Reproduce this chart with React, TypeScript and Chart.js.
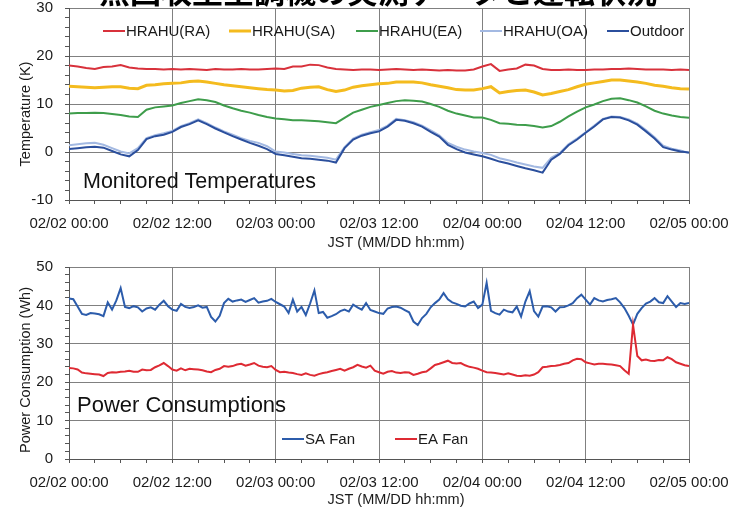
import React, { useEffect, useRef } from 'react';
import { Chart, registerables } from 'chart.js';

Chart.register(...registerables);

const FONT = "'Liberation Sans', Arial, Helvetica, sans-serif";

// ---------- shared axis data ----------
const X_TICK_LABELS = ['02/02 00:00', '02/02 12:00', '02/03 00:00', '02/03 12:00', '02/04 00:00', '02/04 12:00', '02/05 00:00'];
const X_TITLE = 'JST (MM/DD hh:mm)';
const X_MAJOR_HOURS = 12;
const X_MINOR_HOURS = 3;
const X_MAX_HOURS = 72;
const PAGE_TITLE = '熱回収型空調機の実測データと運転状況';

// ---------- temperature chart (hourly samples from 02/02 00:00) ----------
const TEMP_TITLE = 'Monitored Temperatures';
const TEMP_Y_TITLE = 'Temperature (K)';
const TEMP_STEP_HOURS = 1;
const TEMP_NAMES = ['HRAHU(RA)', 'HRAHU(SA)', 'HRAHU(EA)', 'HRAHU(OA)', 'Outdoor'];
const TEMP_RA = [
  18.0, 17.8, 17.5, 17.3, 17.7, 17.8, 18.1, 17.6, 17.4, 17.3, 17.3, 17.2,
  17.3, 17.2, 17.3, 17.2, 17.1, 17.3, 17.2, 17.2, 17.3, 17.2, 17.2, 17.3,
  17.4, 17.3, 17.8, 17.8, 18.2, 18.1, 17.6, 17.3, 17.2, 17.1, 17.2, 17.2,
  17.1, 17.2, 17.3, 17.2, 17.1, 17.2, 17.1, 17.0, 17.1, 17.0, 17.0, 17.2,
  17.8, 18.3, 16.9, 17.2, 17.4, 18.2, 18.0, 17.3, 17.1, 17.1, 17.2, 17.1,
  17.1, 17.2, 17.2, 17.3, 17.3, 17.4, 17.3, 17.2, 17.2, 17.2, 17.1, 17.2,
  17.1,
];
const TEMP_SA = [
  13.7, 13.6, 13.5, 13.4, 13.5, 13.6, 13.6, 13.3, 13.2, 13.9, 14.0, 14.2,
  14.3, 14.4, 14.7, 14.8, 14.6, 14.3, 14.0, 13.8, 13.6, 13.4, 13.2, 13.0,
  12.9, 12.7, 12.8, 13.3, 13.5, 13.6, 13.0, 12.6, 12.9, 13.5, 13.8, 14.0,
  14.2, 14.3, 14.6, 14.6, 14.6, 14.4, 14.0, 13.7, 13.4, 13.0, 12.9, 12.9,
  13.2, 13.6, 12.3, 12.6, 12.8, 12.9, 12.5, 11.9, 12.2, 12.6, 13.0, 13.6,
  14.1, 14.4, 14.7, 15.0, 15.0, 14.8, 14.6, 14.3, 13.9, 13.7, 13.4, 13.2,
  13.1,
];
const TEMP_EA = [
  8.0, 8.1, 8.1, 8.2, 8.1, 7.9, 7.7, 7.4, 7.3, 8.8, 9.3, 9.5,
  9.7, 10.2, 10.6, 11.0, 10.8, 10.4, 9.7, 9.1, 8.6, 8.2, 7.7, 7.3,
  7.0, 6.8, 6.6, 6.6, 6.5, 6.4, 6.2, 6.0, 7.1, 8.2, 8.8, 9.4,
  9.8, 10.2, 10.6, 10.8, 10.7, 10.5, 10.0, 9.4, 8.6, 8.0, 7.6, 7.2,
  7.2, 6.7, 6.0, 5.9, 5.7, 5.6, 5.4, 5.1, 5.4, 6.3, 7.4, 8.4,
  9.3, 9.9, 10.6, 11.1, 11.2, 10.8, 10.3, 9.5, 8.6, 8.0, 7.6, 7.3,
  7.15,
];
const TEMP_OA = [
  1.4, 1.6, 1.8, 1.9, 1.5, 0.8, 0.1, -0.3, 0.8, 2.9, 3.5, 3.9,
  4.4, 5.4, 6.0, 6.8, 6.0, 5.1, 4.3, 3.6, 2.9, 2.3, 1.9, 1.2,
  0.1, -0.1, -0.4, -0.7, -0.8, -1.0, -1.2, -1.6, 1.0, 2.8, 3.6, 4.1,
  4.6, 5.5, 6.9, 6.6, 6.2, 5.5, 4.5, 3.5, 1.9, 1.1, 0.5, 0.1,
  -0.2, -0.6, -1.3, -1.7, -2.2, -2.6, -3.0, -3.3, -1.2, -0.2, 1.6, 2.8,
  4.1, 5.5, 6.9, 7.4, 7.3, 6.8, 5.9, 4.6, 3.1, 1.3, 0.7, 0.3,
  -0.2,
];
const TEMP_OUTDOOR = [
  0.6, 0.8, 1.0, 1.1, 0.9, 0.2, -0.5, -0.9, 0.4, 2.7, 3.3, 3.6,
  4.2, 5.2, 5.8, 6.6, 5.8, 4.9, 4.1, 3.3, 2.6, 1.9, 1.3, 0.6,
  -0.4, -0.7, -1.0, -1.3, -1.4, -1.6, -1.8, -2.2, 0.8, 2.6, 3.4, 3.9,
  4.3, 5.3, 6.7, 6.5, 6.0, 5.3, 4.2, 3.2, 1.5, 0.6, -0.1, -0.5,
  -0.9, -1.4, -2.0, -2.4, -2.9, -3.4, -3.8, -4.3, -1.6, -0.4, 1.4, 2.6,
  4.0, 5.3, 6.8, 7.3, 7.2, 6.6, 5.7, 4.3, 2.8, 1.0, 0.5, 0.1,
  -0.1,
];
const TEMP_COLORS = ['#d8313b', '#f4bb1e', '#3e9d4b', '#a3b9e2', '#2b4f9d'];
const TEMP_WIDTHS = [2, 3, 2, 2, 2];

// ---------- power chart (30-minute samples from 02/02 00:00) ----------
const POWER_TITLE = 'Power Consumptions';
const POWER_Y_TITLE = 'Power Consumption (Wh)';
const POWER_STEP_HOURS = 0.5;
const POWER_NAMES = ['SA Fan', 'EA Fan'];
const POWER_SA = [
  41.8, 41.6, 39.7, 37.8, 37.5, 38.0, 37.9, 37.7, 37.2, 40.8, 38.9, 41.3,
  44.5, 39.6, 39.3, 39.8, 39.5, 38.4, 39.2, 39.5, 38.9, 40.2, 41.2, 39.8,
  38.9, 38.6, 40.4, 39.6, 39.3, 39.6, 40.0, 39.4, 39.6, 37.0, 35.8, 37.3,
  40.6, 41.7, 41.0, 41.3, 41.5, 40.9, 41.4, 41.9, 40.7, 41.0, 41.2, 41.7,
  40.9, 40.3, 39.7, 38.0, 41.5, 38.4, 39.6, 37.5, 40.5, 43.9, 38.0, 38.3,
  36.8, 37.2, 37.7, 38.5, 38.9, 38.4, 40.2, 39.5, 38.9, 40.6, 38.8, 38.4,
  38.0, 37.8, 39.2, 39.6, 39.7, 39.4, 38.8, 38.2, 35.8, 34.9, 36.7, 37.8,
  39.5, 40.6, 41.5, 43.2, 41.6, 40.8, 40.4, 39.9, 39.7, 40.5, 41.0, 39.3,
  40.2, 45.9, 38.6, 38.0, 37.6, 38.9, 38.4, 38.2, 39.7, 37.1, 41.0, 43.7,
  38.5, 37.1, 39.7, 39.8, 39.5, 38.4, 39.5, 39.6, 40.0, 40.6, 41.9, 42.8,
  41.5, 40.2, 41.9, 41.3, 41.0, 41.4, 41.6, 41.9, 40.8, 39.3, 37.3, 35.0,
  37.8, 39.3, 40.5, 41.0, 41.9, 40.8, 40.6, 42.4, 41.0, 39.6, 40.6, 40.4,
  40.6,
];
const POWER_EA = [
  23.7, 23.6, 23.3, 22.5, 22.3, 22.2, 22.1, 22.0, 21.6, 22.4, 22.6, 22.5,
  22.7, 22.8, 23.0, 22.7, 22.7, 23.3, 23.1, 23.2, 23.9, 24.4, 25.0, 24.2,
  23.3, 23.0, 23.6, 23.1, 23.5, 23.4, 23.3, 23.1, 22.8, 22.6, 23.2, 23.5,
  24.2, 24.0, 24.2, 24.6, 24.8, 24.3, 24.6, 25.0, 24.3, 24.0, 23.9, 24.2,
  23.2, 22.6, 22.7, 22.5, 22.4, 22.1, 21.9, 22.3, 21.9, 21.7, 22.1, 22.4,
  22.6, 22.9, 23.2, 23.5, 23.0, 23.5, 23.9, 24.5, 24.1, 23.8, 24.3, 23.0,
  22.6, 22.2, 22.7, 22.9, 22.5, 22.4, 22.6, 22.5, 21.9, 22.2, 22.6, 22.8,
  23.6, 24.5, 24.8, 25.2, 25.6, 25.0, 24.9, 25.0, 24.4, 24.0, 23.8, 23.5,
  23.0, 22.6, 22.5, 22.4, 22.2, 22.0, 22.3, 22.0, 21.7, 21.6, 21.8, 21.7,
  22.0, 22.6, 23.9, 24.0, 24.2, 24.3, 24.5, 24.8, 25.0, 25.7, 26.1, 26.0,
  25.2, 24.9, 24.6, 24.8, 24.8, 24.7, 24.6, 24.4, 24.2, 23.1, 22.2, 35.0,
  26.8, 25.7, 25.9, 25.6, 25.5, 25.8, 25.7, 26.5, 26.0, 25.2, 24.8, 24.4,
  24.2,
];
const POWER_COLORS = ['#2c5cab', '#de2a33'];

// ---------- helpers ----------
const GRID_COLOR = '#808080';
const AXIS_COLOR = '#555555';
const TEXT_COLOR = '#1a1a1a';

function toPoints(values: number[], step: number) {
  return values.map((v, i) => ({ x: i * step, y: v }));
}

function xScale() {
  return {
    type: 'linear' as const,
    min: 0,
    max: X_MAX_HOURS,
    afterFit: (s: any) => {
      s.height = 50;
      s.paddingLeft = 0;
      s.paddingRight = 0;
    },
    ticks: {
      stepSize: X_MINOR_HOURS,
      autoSkip: false,
      maxRotation: 0,
      minRotation: 0,
      padding: 11,
      color: TEXT_COLOR,
      font: { size: 15, family: FONT },
      callback: (v: any) => (Number(v) % X_MAJOR_HOURS === 0 ? X_TICK_LABELS[Number(v) / X_MAJOR_HOURS] : ''),
    },
    grid: {
      color: (ctx: any) => (ctx.tick && ctx.tick.value % X_MAJOR_HOURS === 0 ? GRID_COLOR : 'rgba(0,0,0,0)'),
      tickColor: AXIS_COLOR,
      tickLength: 4,
      lineWidth: 1,
    },
    border: { display: true, color: AXIS_COLOR, width: 1 },
  };
}

function yScale(min: number, max: number, minor: number, major: number) {
  return {
    min,
    max,
    afterFit: (s: any) => {
      s.width = 69;
      s.paddingTop = 0;
      s.paddingBottom = 0;
    },
    ticks: {
      stepSize: minor,
      autoSkip: false,
      padding: 12,
      color: TEXT_COLOR,
      font: { size: 15, family: FONT },
      callback: (v: any) => (Number(v) % major === 0 ? String(v) : ''),
    },
    grid: {
      color: (ctx: any) => (ctx.tick && ctx.tick.value % major === 0 ? GRID_COLOR : 'rgba(0,0,0,0)'),
      tickColor: AXIS_COLOR,
      tickLength: 4,
      lineWidth: 1,
    },
    border: { display: true, color: AXIS_COLOR, width: 1 },
  };
}

type LegendItem = { name: string; color: string; width: number; x: number };

function makeOverlay(opts: {
  id: string;
  legend: LegendItem[];
  legendY: number;
  label: string;
  labelX: number;
  labelY: number;
  labelSize: number;
  xTitleY: number;
  yTitle: string;
  yTitleY: number;
  pageTitle?: string;
}) {
  return {
    id: opts.id,
    afterDraw(chart: any) {
      const ctx = chart.ctx as CanvasRenderingContext2D;
      ctx.save();
      if (opts.pageTitle) {
        ctx.font = `700 31px 'Noto Sans CJK JP', sans-serif`;
        ctx.fillStyle = '#000';
        ctx.textAlign = 'center';
        ctx.textBaseline = 'alphabetic';
        ctx.fillText(opts.pageTitle, 378, 3);
      }
      // legend
      ctx.font = `15px ${FONT}`;
      ctx.textBaseline = 'middle';
      ctx.textAlign = 'left';
      opts.legend.forEach((it) => {
        ctx.strokeStyle = it.color;
        ctx.lineWidth = it.width;
        ctx.beginPath();
        ctx.moveTo(it.x, opts.legendY);
        ctx.lineTo(it.x + 22, opts.legendY);
        ctx.stroke();
        ctx.fillStyle = TEXT_COLOR;
        ctx.fillText(it.name, it.x + 23, opts.legendY + 1);
      });
      // in-plot label
      ctx.font = `${opts.labelSize}px ${FONT}`;
      ctx.textBaseline = 'alphabetic';
      ctx.fillStyle = '#111';
      ctx.fillText(opts.label, opts.labelX, opts.labelY);
      // x title
      ctx.font = `14.5px ${FONT}`;
      ctx.textAlign = 'center';
      ctx.textBaseline = 'middle';
      ctx.fillStyle = TEXT_COLOR;
      ctx.fillText(X_TITLE, 396, opts.xTitleY);
      // y title
      ctx.translate(26, opts.yTitleY);
      ctx.rotate(-Math.PI / 2);
      ctx.fillText(opts.yTitle, 0, 0);
      ctx.restore();
    },
  };
}

export default function App() {
  const topRef = useRef<HTMLCanvasElement>(null);
  const botRef = useRef<HTMLCanvasElement>(null);

  useEffect(() => {
    Chart.defaults.font.family = FONT;
    const tempSeries = [TEMP_RA, TEMP_SA, TEMP_EA, TEMP_OA, TEMP_OUTDOOR];
    const top = new Chart(topRef.current as HTMLCanvasElement, {
      type: 'line',
      data: {
        datasets: tempSeries.map((vals, i) => ({
          label: TEMP_NAMES[i],
          data: toPoints(vals, TEMP_STEP_HOURS),
          borderColor: TEMP_COLORS[i],
          borderWidth: TEMP_WIDTHS[i],
          pointRadius: 0,
          tension: 0,
          fill: false,
          order: i === 3 ? 1 : 0,
        })),
      },
      options: {
        animation: false,
        responsive: false,
        devicePixelRatio: 1,
        layout: { padding: { left: 0, right: 53, top: 8, bottom: 0 } },
        plugins: { legend: { display: false }, tooltip: { enabled: false }, title: { display: false } },
        scales: { x: xScale() as any, y: yScale(-10, 30, 2, 10) as any },
      },
      plugins: [
        makeOverlay({
          id: 'topOverlay',
          legend: [
            { name: TEMP_NAMES[0], color: TEMP_COLORS[0], width: 2, x: 103 },
            { name: TEMP_NAMES[1], color: TEMP_COLORS[1], width: 3, x: 229 },
            { name: TEMP_NAMES[2], color: TEMP_COLORS[2], width: 2, x: 356 },
            { name: TEMP_NAMES[3], color: TEMP_COLORS[3], width: 2, x: 480 },
            { name: TEMP_NAMES[4], color: TEMP_COLORS[4], width: 2, x: 607 },
          ],
          legendY: 31,
          label: TEMP_TITLE,
          labelX: 83,
          labelY: 188,
          labelSize: 21.5,
          xTitleY: 243,
          yTitle: TEMP_Y_TITLE,
          yTitleY: 114,
          pageTitle: PAGE_TITLE,
        }) as any,
      ],
    });

    const powerSeries = [POWER_SA, POWER_EA];
    const bot = new Chart(botRef.current as HTMLCanvasElement, {
      type: 'line',
      data: {
        datasets: powerSeries.map((vals, i) => ({
          label: POWER_NAMES[i],
          data: toPoints(vals, POWER_STEP_HOURS),
          borderColor: POWER_COLORS[i],
          borderWidth: 2,
          pointRadius: 0,
          tension: 0,
          fill: false,
          order: i === 0 ? 1 : 0,
        })),
      },
      options: {
        animation: false,
        responsive: false,
        devicePixelRatio: 1,
        layout: { padding: { left: 0, right: 53, top: 17, bottom: 0 } },
        plugins: { legend: { display: false }, tooltip: { enabled: false }, title: { display: false } },
        scales: { x: xScale() as any, y: yScale(0, 50, 2, 10) as any },
      },
      plugins: [
        makeOverlay({
          id: 'botOverlay',
          legend: [
            { name: POWER_NAMES[0], color: POWER_COLORS[0], width: 2, x: 282 },
            { name: POWER_NAMES[1], color: POWER_COLORS[1], width: 2, x: 395 },
          ],
          legendY: 189,
          label: POWER_TITLE,
          labelX: 77,
          labelY: 162,
          labelSize: 22,
          xTitleY: 250,
          yTitle: POWER_Y_TITLE,
          yTitleY: 120,
        }) as any,
      ],
    });

    return () => {
      top.destroy();
      bot.destroy();
    };
  }, []);

  return (
    <div style={{ position: 'fixed', left: 0, top: 0, width: 742, height: 509, background: '#fff', overflow: 'hidden' }}>
      <canvas ref={topRef} width={742} height={250} style={{ position: 'absolute', left: 0, top: 0, width: 742, height: 250 }} />
      <canvas ref={botRef} width={742} height={259} style={{ position: 'absolute', left: 0, top: 250, width: 742, height: 259 }} />
    </div>
  );
}
